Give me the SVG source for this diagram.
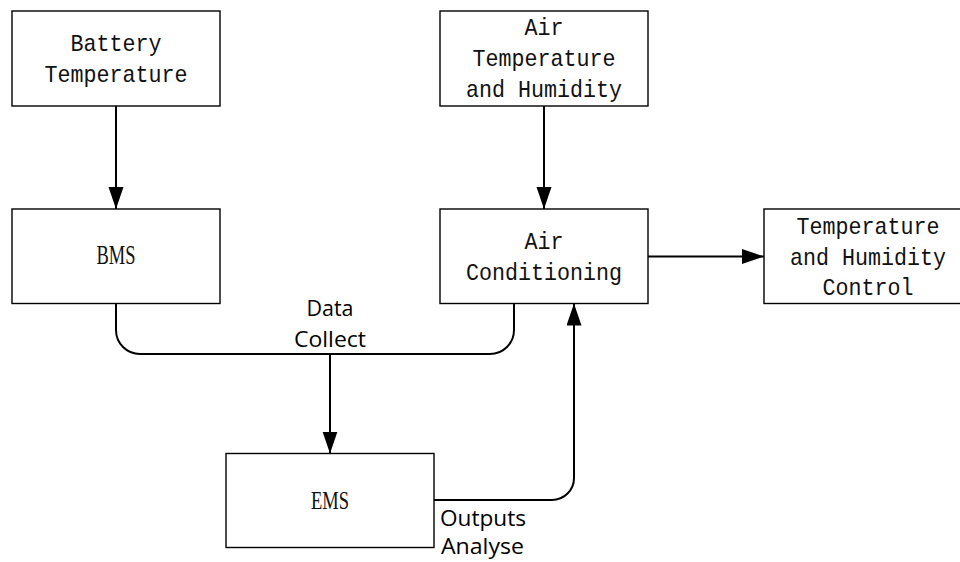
<svg xmlns="http://www.w3.org/2000/svg" width="960" height="562" viewBox="0 0 960 562">
<style>
.box{fill:#fff;stroke:#000;stroke-width:1.4}
.t{font-family:"Liberation Mono",monospace;font-size:24px;fill:#111;text-anchor:middle}
.s{font-family:"Liberation Serif",serif;fill:#111;text-anchor:middle}
.lbl{font-family:"Open Sans","Liberation Sans",sans-serif;font-size:21px;fill:#000}
.c{fill:none;stroke:#000;stroke-width:2}
</style>
<defs>
<marker id="ah" markerUnits="userSpaceOnUse" markerWidth="22" markerHeight="16" refX="22" refY="7.5" orient="auto">
<path d="M0,0 L22,7.5 L0,15 Z" fill="#000"/>
</marker>
</defs>
<rect width="960" height="562" fill="#fff"/>
<g id="connectors">
<path class="c" d="M116,106 V209" marker-end="url(#ah)"/>
<path class="c" d="M544,106 V209" marker-end="url(#ah)"/>
<path class="c" d="M648,256.5 H764" marker-end="url(#ah)"/>
<path class="c" d="M116,303.5 V330 A24,24 0 0 0 140,354 H490 A24,24 0 0 0 514,330 V303.5"/>
<path class="c" d="M330,354 V453.5" marker-end="url(#ah)"/>
<path class="c" d="M434,500 H552 A22,22 0 0 0 574,478 V303.5" marker-end="url(#ah)"/>
<text class="lbl" x="330" y="316" text-anchor="middle" textLength="47" lengthAdjust="spacingAndGlyphs">Data</text>
<text class="lbl" x="330" y="346.5" text-anchor="middle" textLength="72" lengthAdjust="spacingAndGlyphs">Collect</text>
<text class="lbl" x="440" y="525.5" textLength="86" lengthAdjust="spacingAndGlyphs">Outputs</text>
<text class="lbl" x="441" y="554" textLength="83" lengthAdjust="spacingAndGlyphs">Analyse</text>
</g>
<g id="battery-temperature">
<rect class="box" x="12" y="11" width="208" height="95"/>
<text class="t" x="116" y="50.5" textLength="91" lengthAdjust="spacingAndGlyphs">Battery</text>
<text class="t" x="116" y="81.5" textLength="143" lengthAdjust="spacingAndGlyphs">Temperature</text>
</g>
<g id="air-temperature-humidity">
<rect class="box" x="440" y="11" width="208" height="95"/>
<text class="t" x="544" y="35" textLength="39" lengthAdjust="spacingAndGlyphs">Air</text>
<text class="t" x="544" y="65.5" textLength="143" lengthAdjust="spacingAndGlyphs">Temperature</text>
<text class="t" x="544" y="96.5" textLength="156" lengthAdjust="spacingAndGlyphs">and Humidity</text>
</g>
<g id="bms">
<rect class="box" x="12" y="209" width="208" height="94.5"/>
<text class="s" x="116" y="264" font-size="27" textLength="39" lengthAdjust="spacingAndGlyphs">BMS</text>
</g>
<g id="air-conditioning">
<rect class="box" x="440" y="209" width="208" height="94.5"/>
<text class="t" x="544" y="248.5" textLength="39" lengthAdjust="spacingAndGlyphs">Air</text>
<text class="t" x="544" y="279.5" textLength="156" lengthAdjust="spacingAndGlyphs">Conditioning</text>
</g>
<g id="temp-humidity-control">
<rect class="box" x="764" y="209" width="208" height="94.5"/>
<text class="t" x="868" y="233.5" textLength="143" lengthAdjust="spacingAndGlyphs">Temperature</text>
<text class="t" x="868" y="265" textLength="156" lengthAdjust="spacingAndGlyphs">and Humidity</text>
<text class="t" x="868" y="295" textLength="91" lengthAdjust="spacingAndGlyphs">Control</text>
</g>
<g id="ems">
<rect class="box" x="226" y="453.5" width="208" height="94"/>
<text class="s" x="330" y="508.5" font-size="25" textLength="38" lengthAdjust="spacingAndGlyphs">EMS</text>
</g>
</svg>
